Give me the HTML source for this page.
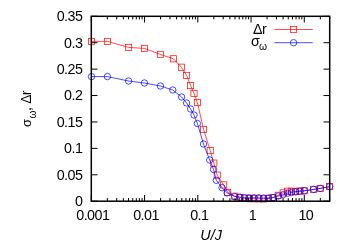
<!DOCTYPE html><html><head><meta charset="utf-8"><style>html,body{margin:0;padding:0;background:#fff}svg{display:block}text{filter:grayscale(1);font-family:"Liberation Sans",sans-serif;font-size:14.3px;letter-spacing:-0.55px;fill:#000}</style></head><body>
<svg width="350" height="245" viewBox="0 0 350 245">
<rect width="350" height="245" fill="#fff"/>
<text x="82.3" y="206.10" text-anchor="end">0</text>
<text x="82.3" y="179.69" text-anchor="end">0.05</text>
<text x="82.3" y="153.27" text-anchor="end">0.1</text>
<text x="82.3" y="126.86" text-anchor="end">0.15</text>
<text x="82.3" y="100.44" text-anchor="end">0.2</text>
<text x="82.3" y="74.03" text-anchor="end">0.25</text>
<text x="82.3" y="47.61" text-anchor="end">0.3</text>
<text x="82.3" y="21.20" text-anchor="end">0.35</text>
<text x="92.80" y="219.9" text-anchor="middle">0.001</text>
<text x="146.05" y="219.9" text-anchor="middle">0.01</text>
<text x="199.30" y="219.9" text-anchor="middle">0.1</text>
<text x="252.55" y="219.9" text-anchor="middle">1</text>
<text x="305.79" y="219.9" text-anchor="middle">10</text>
<text x="211.1" y="240" text-anchor="middle" font-style="italic" style="letter-spacing:0">U/J</text>
<text transform="translate(31.3,127.1) rotate(-90)"><tspan x="0" font-size="12.9">σ</tspan><tspan x="8.7" font-size="10.1" dy="4.3">ω</tspan><tspan x="16" dy="-4.3">,</tspan><tspan x="23.3" font-size="13.8">Δ</tspan><tspan x="31.8" font-size="14.3">r</tspan></text>
<text x="266.3" y="34" text-anchor="end" font-size="13.4">Δr</text>
<text x="266.6" y="45.5" text-anchor="end">σ<tspan font-size="10.3" dy="4" dx="-0.1">ω</tspan></text>
<path d="M91.5 41.4L107.4 41.4L128.6 47.4L144.4 48.4L160.4 54.4L173.4 58.8L181.4 67.2L186.6 75.4L190.6 85.6L194.0 93.4L197.4 102.6L203.6 129.4L210.2 150.6L213.8 163.1L217.2 175.1L223.7 184.9L227.7 192.3L234.8 196.2L239.8 197.5L244.5 198.2L249.2 198.7L254.0 198.7L258.8 198.8L263.6 198.9L268.3 198.4L273.0 197.7L278.2 195.3L283.2 192.9L287.6 191.2L291.4 191.2L295.6 191.6L299.9 191.1L304.3 190.8L313.6 189.4L320.3 188.4L329.7 186.6" stroke="#ff0000" stroke-width="0.7" fill="none"/>
<rect x="88.4" y="38.3" width="6.2" height="6.2" fill="none" stroke="#ff0000" stroke-width="0.7"/>
<rect x="104.3" y="38.3" width="6.2" height="6.2" fill="none" stroke="#ff0000" stroke-width="0.7"/>
<rect x="125.5" y="44.3" width="6.2" height="6.2" fill="none" stroke="#ff0000" stroke-width="0.7"/>
<rect x="141.3" y="45.3" width="6.2" height="6.2" fill="none" stroke="#ff0000" stroke-width="0.7"/>
<rect x="157.3" y="51.3" width="6.2" height="6.2" fill="none" stroke="#ff0000" stroke-width="0.7"/>
<rect x="170.3" y="55.7" width="6.2" height="6.2" fill="none" stroke="#ff0000" stroke-width="0.7"/>
<rect x="178.3" y="64.1" width="6.2" height="6.2" fill="none" stroke="#ff0000" stroke-width="0.7"/>
<rect x="183.5" y="72.3" width="6.2" height="6.2" fill="none" stroke="#ff0000" stroke-width="0.7"/>
<rect x="187.5" y="82.5" width="6.2" height="6.2" fill="none" stroke="#ff0000" stroke-width="0.7"/>
<rect x="190.9" y="90.3" width="6.2" height="6.2" fill="none" stroke="#ff0000" stroke-width="0.7"/>
<rect x="194.3" y="99.5" width="6.2" height="6.2" fill="none" stroke="#ff0000" stroke-width="0.7"/>
<rect x="200.5" y="126.3" width="6.2" height="6.2" fill="none" stroke="#ff0000" stroke-width="0.7"/>
<rect x="207.1" y="147.5" width="6.2" height="6.2" fill="none" stroke="#ff0000" stroke-width="0.7"/>
<rect x="210.7" y="160.0" width="6.2" height="6.2" fill="none" stroke="#ff0000" stroke-width="0.7"/>
<rect x="214.1" y="172.0" width="6.2" height="6.2" fill="none" stroke="#ff0000" stroke-width="0.7"/>
<rect x="220.6" y="181.8" width="6.2" height="6.2" fill="none" stroke="#ff0000" stroke-width="0.7"/>
<rect x="224.6" y="189.2" width="6.2" height="6.2" fill="none" stroke="#ff0000" stroke-width="0.7"/>
<rect x="231.7" y="193.1" width="6.2" height="6.2" fill="none" stroke="#ff0000" stroke-width="0.7"/>
<rect x="236.7" y="194.4" width="6.2" height="6.2" fill="none" stroke="#ff0000" stroke-width="0.7"/>
<rect x="241.4" y="195.1" width="6.2" height="6.2" fill="none" stroke="#ff0000" stroke-width="0.7"/>
<rect x="246.1" y="195.6" width="6.2" height="6.2" fill="none" stroke="#ff0000" stroke-width="0.7"/>
<rect x="250.9" y="195.6" width="6.2" height="6.2" fill="none" stroke="#ff0000" stroke-width="0.7"/>
<rect x="255.7" y="195.7" width="6.2" height="6.2" fill="none" stroke="#ff0000" stroke-width="0.7"/>
<rect x="260.5" y="195.8" width="6.2" height="6.2" fill="none" stroke="#ff0000" stroke-width="0.7"/>
<rect x="265.2" y="195.3" width="6.2" height="6.2" fill="none" stroke="#ff0000" stroke-width="0.7"/>
<rect x="269.9" y="194.6" width="6.2" height="6.2" fill="none" stroke="#ff0000" stroke-width="0.7"/>
<rect x="275.1" y="192.2" width="6.2" height="6.2" fill="none" stroke="#ff0000" stroke-width="0.7"/>
<rect x="280.1" y="189.8" width="6.2" height="6.2" fill="none" stroke="#ff0000" stroke-width="0.7"/>
<rect x="284.5" y="188.1" width="6.2" height="6.2" fill="none" stroke="#ff0000" stroke-width="0.7"/>
<rect x="288.3" y="188.1" width="6.2" height="6.2" fill="none" stroke="#ff0000" stroke-width="0.7"/>
<rect x="292.5" y="188.5" width="6.2" height="6.2" fill="none" stroke="#ff0000" stroke-width="0.7"/>
<rect x="296.8" y="188.0" width="6.2" height="6.2" fill="none" stroke="#ff0000" stroke-width="0.7"/>
<rect x="301.2" y="187.7" width="6.2" height="6.2" fill="none" stroke="#ff0000" stroke-width="0.7"/>
<rect x="310.5" y="186.3" width="6.2" height="6.2" fill="none" stroke="#ff0000" stroke-width="0.7"/>
<rect x="317.2" y="185.3" width="6.2" height="6.2" fill="none" stroke="#ff0000" stroke-width="0.7"/>
<rect x="326.6" y="183.5" width="6.2" height="6.2" fill="none" stroke="#ff0000" stroke-width="0.7"/>
<path d="M91.5 76.6L107.4 76.6L128.6 81.0L144.4 83.0L160.4 86.0L172.8 90.0L181.6 97.0L186.6 103.0L190.6 109.0L194.0 115.0L197.4 123.5L203.5 144.0L209.7 160.0L213.5 169.4L216.3 180.3L222.0 187.7L227.1 192.9L234.8 196.5L239.8 197.2L244.5 197.7L249.2 197.7L254.0 197.7L258.8 197.8L263.6 198.0L268.3 198.0L273.0 197.5L278.2 196.0L283.2 194.7L287.6 193.2L291.4 192.5L295.6 191.8L299.9 191.1L304.3 190.8L313.6 189.4L320.3 188.4L329.7 186.6" stroke="#0000ff" stroke-width="0.7" fill="none"/>
<circle cx="91.5" cy="76.6" r="3.2" fill="none" stroke="#0000ff" stroke-width="0.7"/>
<circle cx="107.4" cy="76.6" r="3.2" fill="none" stroke="#0000ff" stroke-width="0.7"/>
<circle cx="128.6" cy="81.0" r="3.2" fill="none" stroke="#0000ff" stroke-width="0.7"/>
<circle cx="144.4" cy="83.0" r="3.2" fill="none" stroke="#0000ff" stroke-width="0.7"/>
<circle cx="160.4" cy="86.0" r="3.2" fill="none" stroke="#0000ff" stroke-width="0.7"/>
<circle cx="172.8" cy="90.0" r="3.2" fill="none" stroke="#0000ff" stroke-width="0.7"/>
<circle cx="181.6" cy="97.0" r="3.2" fill="none" stroke="#0000ff" stroke-width="0.7"/>
<circle cx="186.6" cy="103.0" r="3.2" fill="none" stroke="#0000ff" stroke-width="0.7"/>
<circle cx="190.6" cy="109.0" r="3.2" fill="none" stroke="#0000ff" stroke-width="0.7"/>
<circle cx="194.0" cy="115.0" r="3.2" fill="none" stroke="#0000ff" stroke-width="0.7"/>
<circle cx="197.4" cy="123.5" r="3.2" fill="none" stroke="#0000ff" stroke-width="0.7"/>
<circle cx="203.5" cy="144.0" r="3.2" fill="none" stroke="#0000ff" stroke-width="0.7"/>
<circle cx="209.7" cy="160.0" r="3.2" fill="none" stroke="#0000ff" stroke-width="0.7"/>
<circle cx="213.5" cy="169.4" r="3.2" fill="none" stroke="#0000ff" stroke-width="0.7"/>
<circle cx="216.3" cy="180.3" r="3.2" fill="none" stroke="#0000ff" stroke-width="0.7"/>
<circle cx="222.0" cy="187.7" r="3.2" fill="none" stroke="#0000ff" stroke-width="0.7"/>
<circle cx="227.1" cy="192.9" r="3.2" fill="none" stroke="#0000ff" stroke-width="0.7"/>
<circle cx="234.8" cy="196.5" r="3.2" fill="none" stroke="#0000ff" stroke-width="0.7"/>
<circle cx="239.8" cy="197.2" r="3.2" fill="none" stroke="#0000ff" stroke-width="0.7"/>
<circle cx="244.5" cy="197.7" r="3.2" fill="none" stroke="#0000ff" stroke-width="0.7"/>
<circle cx="249.2" cy="197.7" r="3.2" fill="none" stroke="#0000ff" stroke-width="0.7"/>
<circle cx="254.0" cy="197.7" r="3.2" fill="none" stroke="#0000ff" stroke-width="0.7"/>
<circle cx="258.8" cy="197.8" r="3.2" fill="none" stroke="#0000ff" stroke-width="0.7"/>
<circle cx="263.6" cy="198.0" r="3.2" fill="none" stroke="#0000ff" stroke-width="0.7"/>
<circle cx="268.3" cy="198.0" r="3.2" fill="none" stroke="#0000ff" stroke-width="0.7"/>
<circle cx="273.0" cy="197.5" r="3.2" fill="none" stroke="#0000ff" stroke-width="0.7"/>
<circle cx="278.2" cy="196.0" r="3.2" fill="none" stroke="#0000ff" stroke-width="0.7"/>
<circle cx="283.2" cy="194.7" r="3.2" fill="none" stroke="#0000ff" stroke-width="0.7"/>
<circle cx="287.6" cy="193.2" r="3.2" fill="none" stroke="#0000ff" stroke-width="0.7"/>
<circle cx="291.4" cy="192.5" r="3.2" fill="none" stroke="#0000ff" stroke-width="0.7"/>
<circle cx="295.6" cy="191.8" r="3.2" fill="none" stroke="#0000ff" stroke-width="0.7"/>
<circle cx="299.9" cy="191.1" r="3.2" fill="none" stroke="#0000ff" stroke-width="0.7"/>
<circle cx="304.3" cy="190.8" r="3.2" fill="none" stroke="#0000ff" stroke-width="0.7"/>
<circle cx="313.6" cy="189.4" r="3.2" fill="none" stroke="#0000ff" stroke-width="0.7"/>
<circle cx="320.3" cy="188.4" r="3.2" fill="none" stroke="#0000ff" stroke-width="0.7"/>
<circle cx="329.7" cy="186.6" r="3.2" fill="none" stroke="#0000ff" stroke-width="0.7"/>
<path d="M274.4 29.5H312.8" stroke="#ff0000" stroke-width="0.7"/>
<rect x="290.5" y="26.4" width="6.2" height="6.2" fill="none" stroke="#ff0000" stroke-width="0.7"/>
<path d="M274.4 42.7H312.8" stroke="#0000ff" stroke-width="0.7"/>
<circle cx="293.6" cy="42.7" r="3.2" fill="none" stroke="#0000ff" stroke-width="0.7"/>
<path d="M91.3 201.20h6.2M329.7 201.20h-6.2M91.3 174.79h6.2M329.7 174.79h-6.2M91.3 148.37h6.2M329.7 148.37h-6.2M91.3 121.96h6.2M329.7 121.96h-6.2M91.3 95.54h6.2M329.7 95.54h-6.2M91.3 69.13h6.2M329.7 69.13h-6.2M91.3 42.71h6.2M329.7 42.71h-6.2M91.3 16.30h6.2M329.7 16.30h-6.2M91.30 201.2v-6.2M91.30 16.3v6.2M107.33 201.2v-3.1M107.33 16.3v3.1M116.71 201.2v-3.1M116.71 16.3v3.1M123.36 201.2v-3.1M123.36 16.3v3.1M128.52 201.2v-3.1M128.52 16.3v3.1M132.74 201.2v-3.1M132.74 16.3v3.1M136.30 201.2v-3.1M136.30 16.3v3.1M139.39 201.2v-3.1M139.39 16.3v3.1M142.11 201.2v-3.1M142.11 16.3v3.1M144.55 201.2v-6.2M144.55 16.3v6.2M160.58 201.2v-3.1M160.58 16.3v3.1M169.95 201.2v-3.1M169.95 16.3v3.1M176.61 201.2v-3.1M176.61 16.3v3.1M181.77 201.2v-3.1M181.77 16.3v3.1M185.98 201.2v-3.1M185.98 16.3v3.1M189.55 201.2v-3.1M189.55 16.3v3.1M192.64 201.2v-3.1M192.64 16.3v3.1M195.36 201.2v-3.1M195.36 16.3v3.1M197.80 201.2v-6.2M197.80 16.3v6.2M213.83 201.2v-3.1M213.83 16.3v3.1M223.20 201.2v-3.1M223.20 16.3v3.1M229.86 201.2v-3.1M229.86 16.3v3.1M235.02 201.2v-3.1M235.02 16.3v3.1M239.23 201.2v-3.1M239.23 16.3v3.1M242.80 201.2v-3.1M242.80 16.3v3.1M245.89 201.2v-3.1M245.89 16.3v3.1M248.61 201.2v-3.1M248.61 16.3v3.1M251.05 201.2v-6.2M251.05 16.3v6.2M267.07 201.2v-3.1M267.07 16.3v3.1M276.45 201.2v-3.1M276.45 16.3v3.1M283.10 201.2v-3.1M283.10 16.3v3.1M288.26 201.2v-3.1M288.26 16.3v3.1M292.48 201.2v-3.1M292.48 16.3v3.1M296.05 201.2v-3.1M296.05 16.3v3.1M299.13 201.2v-3.1M299.13 16.3v3.1M301.86 201.2v-3.1M301.86 16.3v3.1M304.29 201.2v-6.2M304.29 16.3v6.2M320.32 201.2v-3.1M320.32 16.3v3.1M329.70 201.2v-3.1M329.70 16.3v3.1" stroke="#000" stroke-width="1" fill="none"/>
<rect x="91.3" y="16.3" width="238.40" height="184.90" fill="none" stroke="#000" stroke-width="1.5"/>
</svg></body></html>
